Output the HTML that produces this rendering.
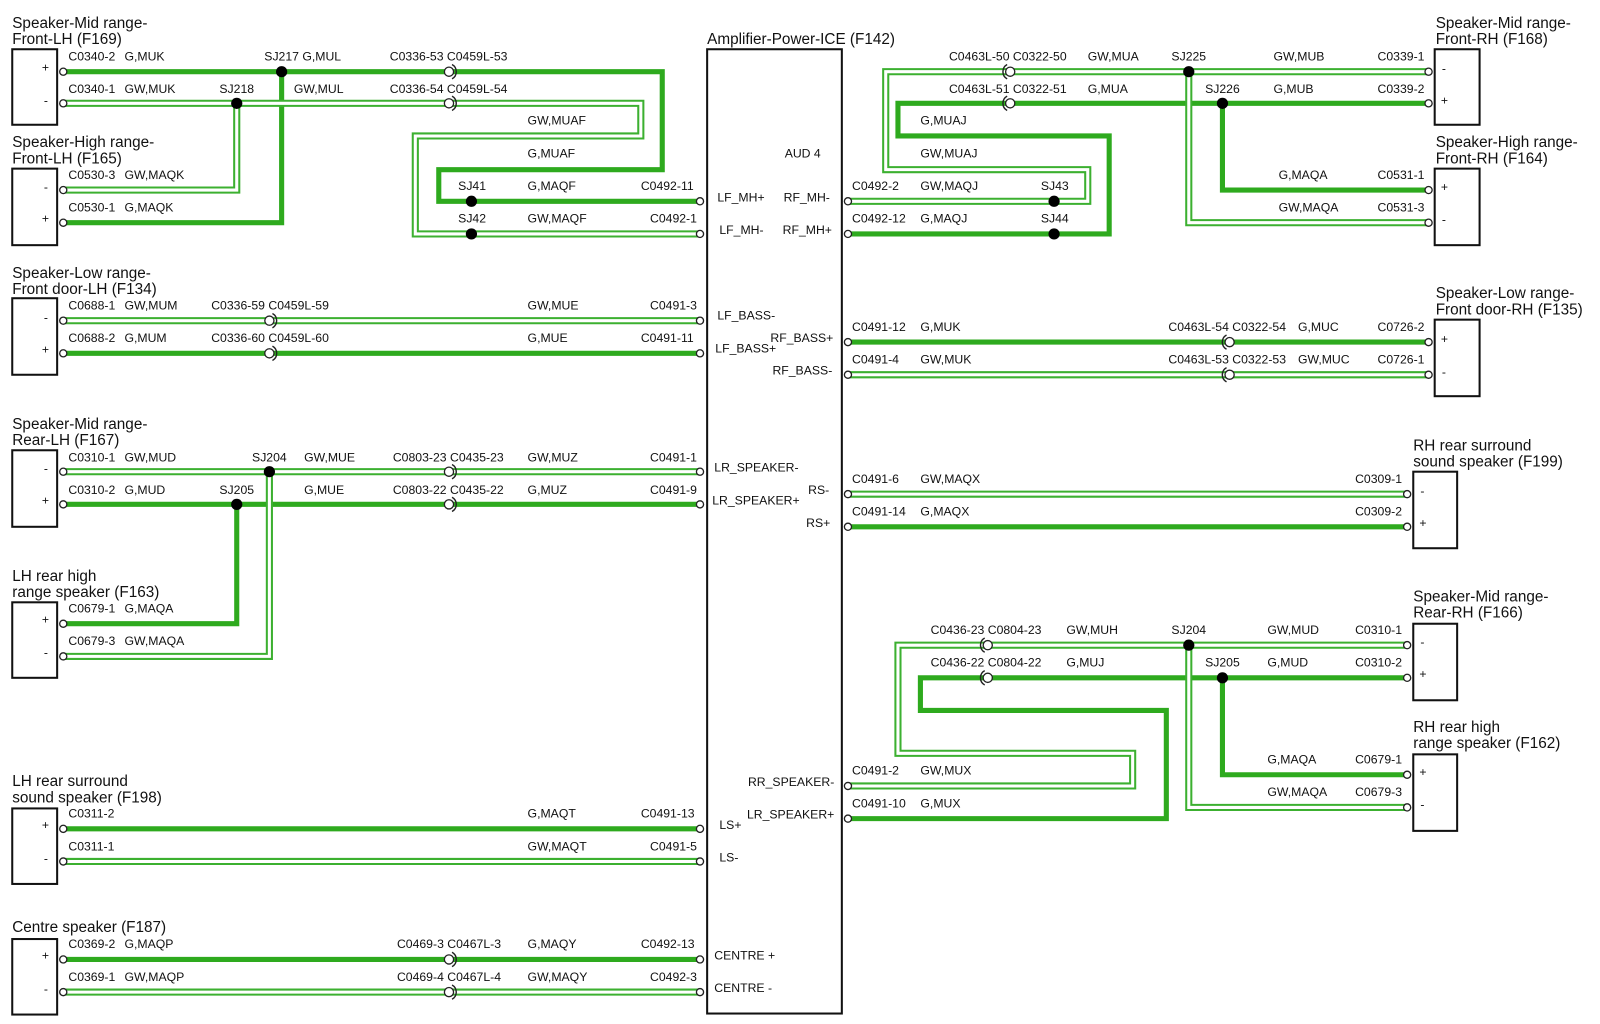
<!DOCTYPE html>
<html><head><meta charset="utf-8"><style>
html,body{margin:0;padding:0;background:#fff;width:1600px;height:1024px;overflow:hidden}
svg{display:block}
text{font-family:"Liberation Sans",Arial,sans-serif;font-size:12px;fill:#111}
.t{font-size:15px}
.g{stroke:#2eaa1e;stroke-width:5;fill:none;stroke-linejoin:miter}
.wo{stroke:#3cb030;stroke-width:7;fill:none}
.wi{stroke:#fff;stroke-width:3;fill:none}
.bx{fill:#fff;stroke:#111;stroke-width:2}
.tm{fill:#fff;stroke:#222;stroke-width:1.3}
.cn{fill:#fff;stroke:#222;stroke-width:1.3}
.arc{fill:none;stroke:#222;stroke-width:1.4}
</style></head><body>
<svg width="1600" height="1024" viewBox="0 0 1568 1003" xmlns="http://www.w3.org/2000/svg">
<rect class="bx" x="693" y="48" width="132" height="945"/>
<text class="t" x="693" y="43">Amplifier-Power-ICE (F142)</text>

<g class="g">
<polyline points="62,70 649,70 649,166 430,166 430,197 686,197"/>
<polyline points="276,70 276,218 62,218"/>
<polyline points="1400,101 880,101 880,133 1087,133 1087,229 831,229"/>
<polyline points="1198,101 1198,186 1400,186"/>
<polyline points="62,346 686,346"/>
<polyline points="831,335 1400,335"/>
<polyline points="62,494 686,494"/>
<polyline points="232,494 232,611 62,611"/>
<polyline points="831,516 1379,516"/>
<polyline points="1379,664 902,664 902,696 1143,696 1143,802 831,802"/>
<polyline points="1198,664 1198,759 1379,759"/>
<polyline points="62,812 686,812"/>
<polyline points="62,940 686,940"/>
</g>
<g class="wo">
<polyline points="62,101 628,101 628,133 407,133 407,229 686,229"/>
<polyline points="232,101 232,186 62,186"/>
<polyline points="1400,70 868,70 868,166 1066,166 1066,197 831,197"/>
<polyline points="1165,70 1165,218 1400,218"/>
<polyline points="62,314 686,314"/>
<polyline points="831,367 1400,367"/>
<polyline points="62,462 686,462"/>
<polyline points="264,462 264,643 62,643"/>
<polyline points="831,484 1379,484"/>
<polyline points="1379,632 880,632 880,738 1110,738 1110,770 831,770"/>
<polyline points="1165,632 1165,791 1379,791"/>
<polyline points="62,844 686,844"/>
<polyline points="62,972 686,972"/>
</g>
<g class="wi">
<polyline points="62,101 628,101 628,133 407,133 407,229 686,229"/>
<polyline points="232,101 232,186 62,186"/>
<polyline points="1400,70 868,70 868,166 1066,166 1066,197 831,197"/>
<polyline points="1165,70 1165,218 1400,218"/>
<polyline points="62,314 686,314"/>
<polyline points="831,367 1400,367"/>
<polyline points="62,462 686,462"/>
<polyline points="264,462 264,643 62,643"/>
<polyline points="831,484 1379,484"/>
<polyline points="1379,632 880,632 880,738 1110,738 1110,770 831,770"/>
<polyline points="1165,632 1165,791 1379,791"/>
<polyline points="62,844 686,844"/>
<polyline points="62,972 686,972"/>
</g>

<g fill="#000">
<circle cx="276" cy="70" r="5.5"/><circle cx="232" cy="101" r="5.5"/>
<circle cx="462" cy="197" r="5.5"/><circle cx="462" cy="229" r="5.5"/>
<circle cx="1165" cy="70" r="5.5"/><circle cx="1198" cy="101" r="5.5"/>
<circle cx="1033" cy="197" r="5.5"/><circle cx="1033" cy="229" r="5.5"/>
<circle cx="264" cy="462" r="5.5"/><circle cx="232" cy="494" r="5.5"/>
<circle cx="1165" cy="632" r="5.5"/><circle cx="1198" cy="664" r="5.5"/>
</g>

<g>
<circle class="cn" cx="440" cy="70" r="4.5"/><circle class="cn" cx="440" cy="101" r="4.5"/>
<circle class="cn" cx="264" cy="314" r="4.5"/><circle class="cn" cx="264" cy="346" r="4.5"/>
<circle class="cn" cx="440" cy="462" r="4.5"/><circle class="cn" cx="440" cy="494" r="4.5"/>
<circle class="cn" cx="440" cy="940" r="4.5"/><circle class="cn" cx="440" cy="972" r="4.5"/>
<circle class="cn" cx="990" cy="70" r="4.5"/><circle class="cn" cx="990" cy="101" r="4.5"/>
<circle class="cn" cx="1205" cy="335" r="4.5"/><circle class="cn" cx="1205" cy="367" r="4.5"/>
<circle class="cn" cx="968" cy="632" r="4.5"/><circle class="cn" cx="968" cy="664" r="4.5"/>
</g>
<g class="arc">
<path d="M443,63 A8,8 0 0 1 443,77"/><path d="M443,94 A8,8 0 0 1 443,108"/>
<path d="M267,307 A8,8 0 0 1 267,321"/><path d="M267,339 A8,8 0 0 1 267,353"/>
<path d="M443,455 A8,8 0 0 1 443,469"/><path d="M443,487 A8,8 0 0 1 443,501"/>
<path d="M443,933 A8,8 0 0 1 443,947"/><path d="M443,965 A8,8 0 0 1 443,979"/>
<path d="M987,63 A8,8 0 0 0 987,77"/><path d="M987,94 A8,8 0 0 0 987,108"/>
<path d="M1202,328 A8,8 0 0 0 1202,342"/><path d="M1202,360 A8,8 0 0 0 1202,374"/>
<path d="M965,625 A8,8 0 0 0 965,639"/><path d="M965,657 A8,8 0 0 0 965,671"/>
</g>

<g class="tm">
<circle cx="62" cy="70" r="3.5"/><circle cx="62" cy="101" r="3.5"/><circle cx="62" cy="186" r="3.5"/><circle cx="62" cy="218" r="3.5"/>
<circle cx="62" cy="314" r="3.5"/><circle cx="62" cy="346" r="3.5"/><circle cx="62" cy="462" r="3.5"/><circle cx="62" cy="494" r="3.5"/>
<circle cx="62" cy="611" r="3.5"/><circle cx="62" cy="643" r="3.5"/><circle cx="62" cy="812" r="3.5"/><circle cx="62" cy="844" r="3.5"/>
<circle cx="62" cy="940" r="3.5"/><circle cx="62" cy="972" r="3.5"/>
<circle cx="686" cy="197" r="3.5"/><circle cx="686" cy="229" r="3.5"/><circle cx="686" cy="314" r="3.5"/><circle cx="686" cy="346" r="3.5"/>
<circle cx="686" cy="462" r="3.5"/><circle cx="686" cy="494" r="3.5"/><circle cx="686" cy="812" r="3.5"/><circle cx="686" cy="844" r="3.5"/>
<circle cx="686" cy="940" r="3.5"/><circle cx="686" cy="972" r="3.5"/>
<circle cx="831" cy="197" r="3.5"/><circle cx="831" cy="229" r="3.5"/><circle cx="831" cy="335" r="3.5"/><circle cx="831" cy="367" r="3.5"/>
<circle cx="831" cy="484" r="3.5"/><circle cx="831" cy="516" r="3.5"/><circle cx="831" cy="770" r="3.5"/><circle cx="831" cy="802" r="3.5"/>
<circle cx="1400" cy="70" r="3.5"/><circle cx="1400" cy="101" r="3.5"/><circle cx="1400" cy="186" r="3.5"/><circle cx="1400" cy="218" r="3.5"/>
<circle cx="1400" cy="335" r="3.5"/><circle cx="1400" cy="367" r="3.5"/>
<circle cx="1379" cy="484" r="3.5"/><circle cx="1379" cy="516" r="3.5"/><circle cx="1379" cy="632" r="3.5"/><circle cx="1379" cy="664" r="3.5"/>
<circle cx="1379" cy="759" r="3.5"/><circle cx="1379" cy="791" r="3.5"/>
</g>

<g class="bx">
<rect x="12" y="48" width="44" height="74"/><rect x="12" y="165" width="44" height="75"/>
<rect x="12" y="292" width="44" height="75"/><rect x="12" y="441" width="44" height="75"/>
<rect x="12" y="590" width="44" height="74"/><rect x="12" y="792" width="44" height="74"/>
<rect x="12" y="920" width="44" height="74"/>
<rect x="1406" y="48" width="44" height="74"/><rect x="1406" y="165" width="44" height="75"/>
<rect x="1406" y="313" width="44" height="75"/>
<rect x="1385" y="462" width="43" height="75"/><rect x="1385" y="611" width="43" height="75"/>
<rect x="1385" y="739" width="43" height="75"/>
</g>

<g class="t">
<text class="t" x="12" y="27">Speaker-Mid range-</text><text class="t" x="12" y="43">Front-LH (F169)</text>
<text class="t" x="12" y="144">Speaker-High range-</text><text class="t" x="12" y="160">Front-LH (F165)</text>
<text class="t" x="12" y="272">Speaker-Low range-</text><text class="t" x="12" y="288">Front door-LH (F134)</text>
<text class="t" x="12" y="420">Speaker-Mid range-</text><text class="t" x="12" y="436">Rear-LH (F167)</text>
<text class="t" x="12" y="569">LH rear high</text><text class="t" x="12" y="585">range speaker (F163)</text>
<text class="t" x="12" y="770">LH rear surround</text><text class="t" x="12" y="786">sound speaker (F198)</text>
<text class="t" x="12" y="913">Centre speaker (F187)</text>
<text class="t" x="1407" y="27">Speaker-Mid range-</text><text class="t" x="1407" y="43">Front-RH (F168)</text>
<text class="t" x="1407" y="144">Speaker-High range-</text><text class="t" x="1407" y="160">Front-RH (F164)</text>
<text class="t" x="1407" y="292">Speaker-Low range-</text><text class="t" x="1407" y="308">Front door-RH (F135)</text>
<text class="t" x="1385" y="441">RH rear surround</text><text class="t" x="1385" y="457">sound speaker (F199)</text>
<text class="t" x="1385" y="589">Speaker-Mid range-</text><text class="t" x="1385" y="605">Rear-RH (F166)</text>
<text class="t" x="1385" y="717">RH rear high</text><text class="t" x="1385" y="733">range speaker (F162)</text>
</g>

<g>
<text x="41" y="70">+</text><text x="43" y="102">-</text><text x="43" y="187">-</text><text x="41" y="218">+</text>
<text x="43" y="315">-</text><text x="41" y="346">+</text><text x="43" y="463">-</text><text x="41" y="494">+</text>
<text x="41" y="611">+</text><text x="43" y="643">-</text><text x="41" y="812">+</text><text x="43" y="845">-</text>
<text x="41" y="940">+</text><text x="43" y="973">-</text>
<text x="1413" y="71">-</text><text x="1412" y="102">+</text><text x="1412" y="187">+</text><text x="1413" y="219">-</text>
<text x="1412" y="336">+</text><text x="1413" y="368">-</text>
<text x="1392" y="485">-</text><text x="1391" y="516">+</text><text x="1392" y="633">-</text><text x="1391" y="664">+</text>
<text x="1391" y="760">+</text><text x="1392" y="792">-</text>
</g>

<g>
<text x="703" y="197">LF_MH+</text><text x="705" y="229">LF_MH-</text>
<text x="769" y="154">AUD 4</text>
<text x="768" y="197">RF_MH-</text><text x="767" y="229">RF_MH+</text>
<text x="703" y="313">LF_BASS-</text><text x="701" y="345">LF_BASS+</text>
<text x="755" y="335">RF_BASS+</text><text x="757" y="367">RF_BASS-</text>
<text x="700" y="462">LR_SPEAKER-</text><text x="698" y="494">LR_SPEAKER+</text>
<text x="792" y="484">RS-</text><text x="790" y="516">RS+</text>
<text x="733" y="770">RR_SPEAKER-</text><text x="732" y="802">LR_SPEAKER+</text>
<text x="705" y="812">LS+</text><text x="705" y="844">LS-</text>
<text x="700" y="940">CENTRE +</text><text x="700" y="972">CENTRE -</text>
</g>

<g>
<text x="67" y="59">C0340-2</text><text x="122" y="59">G,MUK</text>
<text x="259" y="59">SJ217 G,MUL</text><text x="382" y="59">C0336-53 C0459L-53</text>
<text x="67" y="91">C0340-1</text><text x="122" y="91">GW,MUK</text>
<text x="215" y="91">SJ218</text><text x="288" y="91">GW,MUL</text><text x="382" y="91">C0336-54 C0459L-54</text>
<text x="517" y="122">GW,MUAF</text><text x="517" y="154">G,MUAF</text>
<text x="449" y="186">SJ41</text><text x="517" y="186">G,MAQF</text><text x="628" y="186">C0492-11</text>
<text x="449" y="218">SJ42</text><text x="517" y="218">GW,MAQF</text><text x="637" y="218">C0492-1</text>
<text x="67" y="175">C0530-3</text><text x="122" y="175">GW,MAQK</text>
<text x="67" y="207">C0530-1</text><text x="122" y="207">G,MAQK</text>
<text x="67" y="303">C0688-1</text><text x="122" y="303">GW,MUM</text><text x="207" y="303">C0336-59 C0459L-59</text>
<text x="517" y="303">GW,MUE</text><text x="637" y="303">C0491-3</text>
<text x="67" y="335">C0688-2</text><text x="122" y="335">G,MUM</text><text x="207" y="335">C0336-60 C0459L-60</text>
<text x="517" y="335">G,MUE</text><text x="628" y="335">C0491-11</text>
<text x="67" y="452">C0310-1</text><text x="122" y="452">GW,MUD</text><text x="247" y="452">SJ204</text>
<text x="298" y="452">GW,MUE</text><text x="385" y="452">C0803-23 C0435-23</text><text x="517" y="452">GW,MUZ</text><text x="637" y="452">C0491-1</text>
<text x="67" y="484">C0310-2</text><text x="122" y="484">G,MUD</text><text x="215" y="484">SJ205</text>
<text x="298" y="484">G,MUE</text><text x="385" y="484">C0803-22 C0435-22</text><text x="517" y="484">G,MUZ</text><text x="637" y="484">C0491-9</text>
<text x="67" y="600">C0679-1</text><text x="122" y="600">G,MAQA</text>
<text x="67" y="632">C0679-3</text><text x="122" y="632">GW,MAQA</text>
<text x="67" y="801">C0311-2</text><text x="517" y="801">G,MAQT</text><text x="628" y="801">C0491-13</text>
<text x="67" y="833">C0311-1</text><text x="517" y="833">GW,MAQT</text><text x="637" y="833">C0491-5</text>
<text x="67" y="929">C0369-2</text><text x="122" y="929">G,MAQP</text><text x="389" y="929">C0469-3 C0467L-3</text>
<text x="517" y="929">G,MAQY</text><text x="628" y="929">C0492-13</text>
<text x="67" y="961">C0369-1</text><text x="122" y="961">GW,MAQP</text><text x="389" y="961">C0469-4 C0467L-4</text>
<text x="517" y="961">GW,MAQY</text><text x="637" y="961">C0492-3</text>
</g>
<g>
<text x="930" y="59">C0463L-50 C0322-50</text><text x="1066" y="59">GW,MUA</text><text x="1148" y="59">SJ225</text>
<text x="1248" y="59">GW,MUB</text><text x="1350" y="59">C0339-1</text>
<text x="930" y="91">C0463L-51 C0322-51</text><text x="1066" y="91">G,MUA</text><text x="1181" y="91">SJ226</text>
<text x="1248" y="91">G,MUB</text><text x="1350" y="91">C0339-2</text>
<text x="902" y="122">G,MUAJ</text><text x="902" y="154">GW,MUAJ</text>
<text x="835" y="186">C0492-2</text><text x="902" y="186">GW,MAQJ</text><text x="1020" y="186">SJ43</text>
<text x="835" y="218">C0492-12</text><text x="902" y="218">G,MAQJ</text><text x="1020" y="218">SJ44</text>
<text x="1253" y="175">G,MAQA</text><text x="1350" y="175">C0531-1</text>
<text x="1253" y="207">GW,MAQA</text><text x="1350" y="207">C0531-3</text>
<text x="835" y="324">C0491-12</text><text x="902" y="324">G,MUK</text><text x="1145" y="324">C0463L-54 C0322-54</text>
<text x="1272" y="324">G,MUC</text><text x="1350" y="324">C0726-2</text>
<text x="835" y="356">C0491-4</text><text x="902" y="356">GW,MUK</text><text x="1145" y="356">C0463L-53 C0322-53</text>
<text x="1272" y="356">GW,MUC</text><text x="1350" y="356">C0726-1</text>
<text x="835" y="473">C0491-6</text><text x="902" y="473">GW,MAQX</text><text x="1328" y="473">C0309-1</text>
<text x="835" y="505">C0491-14</text><text x="902" y="505">G,MAQX</text><text x="1328" y="505">C0309-2</text>
<text x="912" y="621">C0436-23 C0804-23</text><text x="1045" y="621">GW,MUH</text><text x="1148" y="621">SJ204</text>
<text x="1242" y="621">GW,MUD</text><text x="1328" y="621">C0310-1</text>
<text x="912" y="653">C0436-22 C0804-22</text><text x="1045" y="653">G,MUJ</text><text x="1181" y="653">SJ205</text>
<text x="1242" y="653">G,MUD</text><text x="1328" y="653">C0310-2</text>
<text x="1242" y="748">G,MAQA</text><text x="1328" y="748">C0679-1</text>
<text x="1242" y="780">GW,MAQA</text><text x="1328" y="780">C0679-3</text>
<text x="835" y="759">C0491-2</text><text x="902" y="759">GW,MUX</text>
<text x="835" y="791">C0491-10</text><text x="902" y="791">G,MUX</text>
</g>
</svg>
</body></html>
